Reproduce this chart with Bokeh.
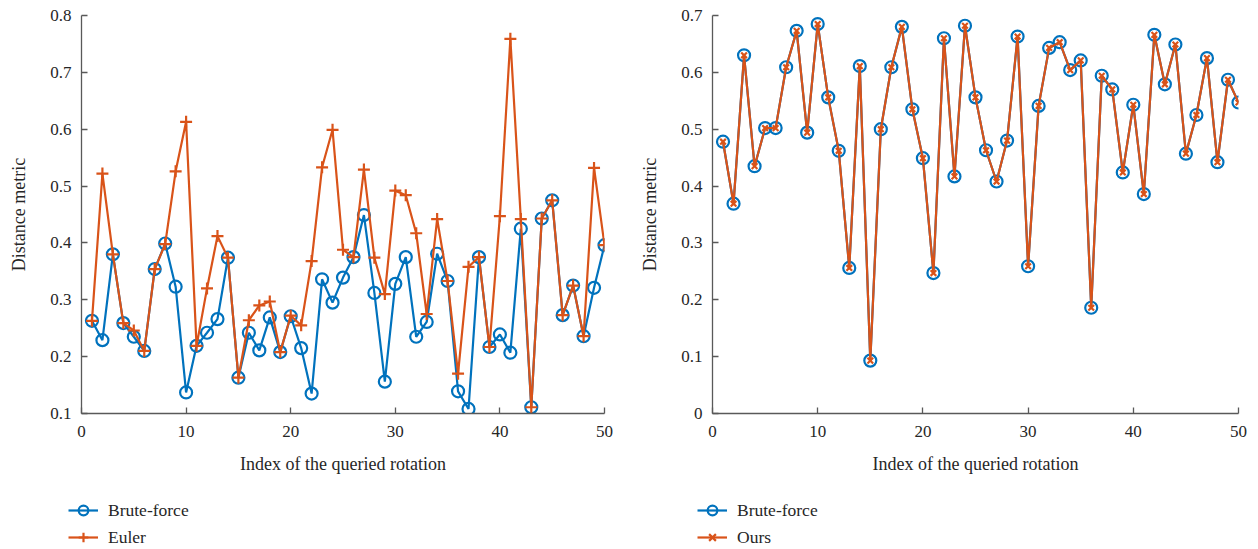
from bokeh.plotting import figure
from bokeh.layouts import row, column
from bokeh.models import Range1d, FixedTicker, Legend, LegendItem
from bokeh.embed import file_html
from bokeh.resources import INLINE

idx = list(range(1, 51))

left_brute = [0.263, 0.229, 0.380, 0.259, 0.235, 0.210, 0.354, 0.399, 0.323, 0.137,
              0.219, 0.242, 0.266, 0.374, 0.163, 0.242, 0.211, 0.269, 0.208, 0.271,
              0.215, 0.135, 0.336, 0.295, 0.339, 0.375, 0.449, 0.312, 0.156, 0.328,
              0.375, 0.235, 0.261, 0.381, 0.333, 0.139, 0.108, 0.375, 0.217, 0.239,
              0.207, 0.425, 0.111, 0.443, 0.475, 0.273, 0.325, 0.236, 0.321, 0.396]

left_euler = [0.263, 0.522, 0.380, 0.259, 0.246, 0.210, 0.354, 0.398, 0.526, 0.613,
              0.219, 0.320, 0.412, 0.374, 0.163, 0.264, 0.290, 0.297, 0.208, 0.272,
              0.255, 0.368, 0.533, 0.599, 0.388, 0.375, 0.529, 0.374, 0.310, 0.492,
              0.484, 0.417, 0.275, 0.442, 0.333, 0.170, 0.358, 0.375, 0.217, 0.447,
              0.759, 0.442, 0.111, 0.443, 0.475, 0.273, 0.325, 0.236, 0.532, 0.396]

right_brute = [0.478, 0.369, 0.630, 0.435, 0.502, 0.502, 0.609, 0.673, 0.494, 0.685,
               0.556, 0.462, 0.256, 0.611, 0.093, 0.500, 0.609, 0.680, 0.535, 0.449,
               0.247, 0.660, 0.417, 0.682, 0.556, 0.463, 0.408, 0.480, 0.663, 0.259,
               0.541, 0.643, 0.653, 0.604, 0.621, 0.186, 0.594, 0.570, 0.424, 0.543,
               0.386, 0.666, 0.579, 0.649, 0.457, 0.525, 0.625, 0.442, 0.587, 0.547]

right_ours = list(right_brute)

x_ticks = [0, 10, 20, 30, 40, 50]
left_y_ticks = [0.1, 0.2, 0.3, 0.4, 0.5, 0.6, 0.7, 0.8]
right_y_ticks = [0, 0.1, 0.2, 0.3, 0.4, 0.5, 0.6, 0.7]

BLUE = "#0072BD"
ORANGE = "#D95319"
FONT = "Liberation Serif"
AXC = "#595959"
TXT = "#262626"
LW = 2.2


def style(p):
    p.outline_line_color = None
    p.xgrid.visible = False
    p.ygrid.visible = False
    for ax in (p.xaxis[0], p.yaxis[0]):
        ax.axis_line_color = AXC
        ax.axis_line_width = 1.3
        ax.major_tick_line_color = AXC
        ax.major_tick_line_width = 1.3
        ax.major_tick_in = 6
        ax.major_tick_out = 0
        ax.minor_tick_line_color = None
        ax.major_label_text_font = FONT
        ax.major_label_text_font_size = "17px"
        ax.major_label_text_color = TXT
        ax.axis_label_text_font = FONT
        ax.axis_label_text_font_size = "18px"
        ax.axis_label_text_font_style = "normal"
        ax.axis_label_text_color = TXT
    p.xaxis[0].major_label_standoff = 12
    p.xaxis[0].axis_label_standoff = 14
    p.yaxis[0].major_label_standoff = 10
    p.yaxis[0].axis_label_standoff = 18
    p.xaxis[0].ticker = FixedTicker(ticks=x_ticks)
    p.xaxis[0].axis_label = "Index of the queried rotation"
    p.yaxis[0].axis_label = "Distance metric"


# Left figure
p1 = figure(width=620, height=498, output_backend="svg", toolbar_location=None,
            x_range=Range1d(0, 50), y_range=Range1d(0.1, 0.8))
p1.min_border_left = 81
p1.min_border_right = 16
p1.min_border_top = 15
p1.min_border_bottom = 85
style(p1)
p1.yaxis[0].ticker = FixedTicker(ticks=left_y_ticks)

p1.line(idx, left_brute, line_color=BLUE, line_width=LW)
p1.scatter(idx, left_brute, marker="circle", size=12, fill_color=None,
           line_color=BLUE, line_width=LW)
p1.line(idx, left_euler, line_color=ORANGE, line_width=LW)
p1.scatter(idx, left_euler, marker="cross", size=12,
           line_color=ORANGE, line_width=LW)

# Right figure
p2 = figure(width=630, height=498, output_backend="svg", toolbar_location=None,
            x_range=Range1d(0, 50), y_range=Range1d(0, 0.7))
p2.min_border_left = 92
p2.min_border_right = 12
p2.min_border_top = 15
p2.min_border_bottom = 85
style(p2)
p2.yaxis[0].ticker = FixedTicker(ticks=right_y_ticks)
p2.yaxis[0].major_label_overrides = {0: "0"}

p2.line(idx, right_brute, line_color=BLUE, line_width=LW)
p2.scatter(idx, right_brute, marker="circle", size=12, fill_color=None,
           line_color=BLUE, line_width=LW)
p2.line(idx, right_ours, line_color=ORANGE, line_width=LW)
p2.scatter(idx, right_ours, marker="x", size=8,
           line_color=ORANGE, line_width=LW)

# Legend strip below both charts (its glyphs lie outside its visible range;
# only the legend samples are seen)
q = figure(width=1250, height=51, output_backend="svg", toolbar_location=None,
           x_range=Range1d(1000, 1001), y_range=Range1d(0, 1), min_border=0)
q.axis.visible = False
q.xgrid.visible = False
q.ygrid.visible = False
q.outline_line_color = None

qa1 = q.line(idx, left_brute, line_color=BLUE, line_width=LW)
qm1 = q.scatter(idx, left_brute, marker="circle", size=10, fill_color=None,
                line_color=BLUE, line_width=LW)
qa2 = q.line(idx, left_euler, line_color=ORANGE, line_width=LW)
qm2 = q.scatter(idx, left_euler, marker="cross", size=12,
                line_color=ORANGE, line_width=LW)
qb1 = q.line(idx, right_brute, line_color=BLUE, line_width=LW)
qn1 = q.scatter(idx, right_brute, marker="circle", size=10, fill_color=None,
                line_color=BLUE, line_width=LW)
qb2 = q.line(idx, right_ours, line_color=ORANGE, line_width=LW)
qn2 = q.scatter(idx, right_ours, marker="x", size=8,
                line_color=ORANGE, line_width=LW)


def make_legend(items, vx):
    return Legend(items=items, location=(vx, 0), orientation="vertical",
                  border_line_color=None, background_fill_alpha=0,
                  padding=0, margin=0, spacing=3, glyph_width=30, glyph_height=24,
                  label_height=24, label_standoff=10,
                  label_text_font=FONT, label_text_font_size="17.5px",
                  label_text_color=TXT)


q.add_layout(make_legend([LegendItem(label="Brute-force", renderers=[qa1, qm1]),
                          LegendItem(label="Euler", renderers=[qa2, qm2])], 68), "center")
q.add_layout(make_legend([LegendItem(label="Brute-force", renderers=[qb1, qn1]),
                          LegendItem(label="Ours", renderers=[qb2, qn2])], 697), "center")

layout = column(row(p1, p2), q)
open("out.html", "w").write(file_html(layout, INLINE))
